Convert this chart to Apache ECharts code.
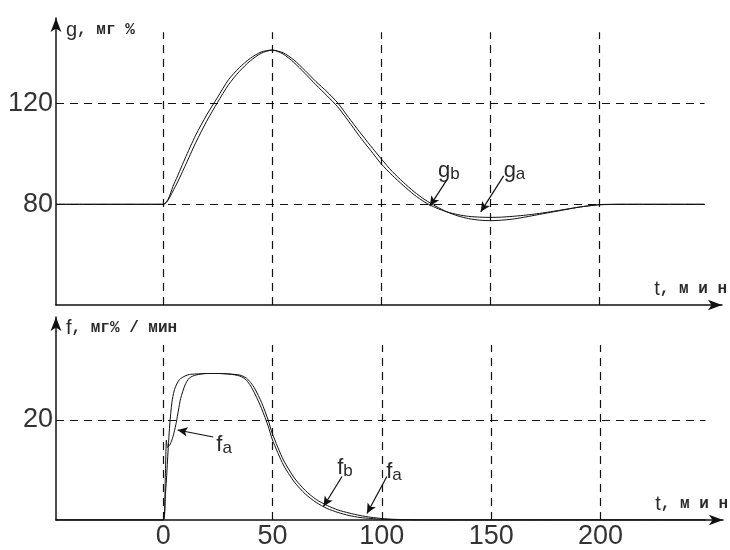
<!DOCTYPE html>
<html>
<head>
<meta charset="utf-8">
<script src="https://cdn.jsdelivr.net/npm/echarts@6/dist/echarts.min.js"></script>
<style>html,body{margin:0;padding:0;background:#fff}#c{width:730px;height:550px}</style>
</head>
<body>
<div id="c"></div>
<script>
// ---- data ----
const T_G = [-49, 0, 5, 10, 15, 20, 25, 30, 35, 40, 45, 50, 55, 60, 65, 70, 75, 80, 85, 90, 95, 100, 105, 110, 115, 120, 125, 130, 135, 140, 145, 150, 155, 160, 165, 170, 175, 180, 185, 190, 195, 200, 210, 220, 248];
const G_A = [80, 80, 86, 95, 104.5, 113, 120.5, 127.5, 132.8, 137, 140, 141.2, 140.2, 137.3, 133.2, 128.8, 124.8, 120.3, 114.5, 108.8, 103.3, 98, 93, 88.8, 85, 81.8, 79.2, 77, 75.4, 74.3, 73.7, 73.5, 73.7, 74.1, 74.8, 75.6, 76.4, 77.2, 78, 78.8, 79.4, 79.9, 80, 80, 80];
const G_B = [80, 80, 88, 98, 107.5, 115.5, 122.5, 129.5, 134.3, 138, 140.5, 141.3, 139.7, 136.3, 132, 127.5, 123.2, 118.7, 113, 107, 101.5, 96, 91.5, 87.5, 83.8, 80.8, 78.6, 77, 75.9, 75.2, 74.9, 74.8, 74.9, 75.2, 75.6, 76.1, 76.7, 77.4, 78.1, 78.8, 79.4, 79.8, 80, 80, 80];

const T_F = [-49, 0, 1, 1.5, 2, 3, 4, 5, 6, 7, 8, 10, 12, 15, 20, 25, 30, 35, 38, 40, 42, 45, 48, 50, 55, 60, 65, 70, 75, 80, 85, 90, 95, 100, 105, 110, 120, 248];
const F_A = [0, 0, 9, 16, 14.5, 15, 16, 17.5, 19.5, 22, 24.3, 27, 28.4, 29, 29.3, 29.3, 29.2, 29, 28.4, 27.5, 26.2, 23.5, 20, 17.2, 12, 8.4, 5.9, 4.1, 2.9, 2, 1.4, 0.9, 0.55, 0.3, 0.15, 0.08, 0, 0];
const F_B = [0, 0, 5, 8, 12, 19, 23.5, 25.8, 27, 27.8, 28.3, 28.8, 29.1, 29.2, 29.3, 29.3, 29.2, 28.8, 28, 26.8, 25.2, 22.3, 18.8, 16, 11, 7.6, 5.2, 3.5, 2.3, 1.5, 0.9, 0.5, 0.3, 0.15, 0.08, 0.04, 0, 0];

const X_TICKS = [0, 50, 100, 150, 200];
const G_TICKS = [80, 120];
const F_TICKS = [20];
const X_GRID = [0, 50, 100, 150, 200];

// ---- helpers ----
const pairs = (xs, ys) => xs.map((x, i) => [x, ys[i]]);
const INK = '#111';
const TXT = '#2a2a2a';
const rich = {
  s: {fontFamily: 'Liberation Sans', fontSize: 20, color: TXT},
  m: {fontFamily: 'Liberation Mono', fontWeight: 'bold', fontSize: 16, color: TXT},
  g: {fontFamily: 'Liberation Sans', fontSize: 22, color: TXT, lineHeight: 24},
  b: {fontFamily: 'Liberation Sans', fontSize: 17, color: TXT, lineHeight: 12, verticalAlign: 'bottom'}
};
const dash = {type: [8, 6], color: INK, width: 1.2};
function gridLines(hLines, xMin, xMax, yMin, yTop) {
  const out = [];
  hLines.forEach(v => out.push([{coord: [xMin, v]}, {coord: [xMax, v]}]));
  X_GRID.forEach(t => out.push([{coord: [t, yMin]}, {coord: [t, yTop]}]));
  return out;
}
function arrow(x0, y0, x1, y1) {
  return [{coord: [x0, y0], symbol: 'none', lineStyle: {type: 'solid', width: 1.2, color: INK}},
          {coord: [x1, y1], symbol: 'arrow', symbolSize: [7, 10]}];
}
function note(x, y, main, sub) {
  return {coord: [x, y], value: 0, label: {formatter: '{g|' + main + '}{b|' + sub + '}'}};
}

const axisCommon = {
  axisLine: {onZero: false, lineStyle: {color: INK, width: 1.5}, symbol: ['none', 'arrow'], symbolSize: [8, 14]},
  axisTick: {show: false},
  splitLine: {show: false}
};
const tickFont = {fontFamily: '"Liberation Sans Narrow", "Liberation Sans", sans-serif', fontSize: 27, color: '#333'};

const lineSeries = (name, data, xi) => ({
  name, type: 'line', xAxisIndex: xi, yAxisIndex: xi, data,
  smooth: 0.25, showSymbol: false, symbol: 'none',
  lineStyle: {color: INK, width: 1}, silent: true, animation: false
});

const option = {
  animation: false,
  backgroundColor: '#fff',
  grid: [
    {left: 56, right: 7, top: 18, height: 287},
    {left: 56, right: 7, top: 317, height: 203}
  ],
  xAxis: [
    Object.assign({}, axisCommon, {
      gridIndex: 0, type: 'value', min: -49, max: 256,
      axisLabel: {show: false},
      name: '{s|t}{m|, м и н}', nameLocation: 'end', nameGap: 5,
      nameTextStyle: {align: 'right', verticalAlign: 'bottom', padding: [0, 0, 6, 0], rich}
    }),
    Object.assign({}, axisCommon, {
      gridIndex: 1, type: 'value', min: -49, max: 256,
      axisLabel: Object.assign({customValues: X_TICKS, margin: 3}, tickFont),
      name: '{s|t}{m|, м и н}', nameLocation: 'end', nameGap: 5,
      nameTextStyle: {align: 'right', verticalAlign: 'bottom', padding: [0, 0, 6, 0], rich}
    })
  ],
  yAxis: [
    Object.assign({}, axisCommon, {
      gridIndex: 0, type: 'value', min: 40, max: 154,
      axisLabel: Object.assign({customValues: G_TICKS, margin: 3}, tickFont),
      name: '{s|g}{m|, мг %}', nameLocation: 'end', nameGap: -2,
      nameTextStyle: {align: 'left', verticalAlign: 'top', padding: [0, 0, 0, 10], rich}
    }),
    Object.assign({}, axisCommon, {
      gridIndex: 1, type: 'value', min: 0, max: 40.6,
      axisLabel: Object.assign({customValues: F_TICKS, margin: 3}, tickFont),
      name: '{s|f}{m|, мг% / мин}', nameLocation: 'end', nameGap: -1,
      nameTextStyle: {align: 'left', verticalAlign: 'top', padding: [0, 0, 0, 10], rich}
    })
  ],
  series: [
    Object.assign(lineSeries('g_a', pairs(T_G, G_A), 0), {
      markLine: {silent: true, symbol: ['none', 'none'], label: {show: false}, lineStyle: dash,
        data: gridLines(G_TICKS, -49, 248, 40, 148.3).concat([
          arrow(130, 89.7, 122.2, 79.3),
          arrow(156, 91.3, 145.5, 77)
        ])},
      markPoint: {silent: true, symbol: 'rect', symbolSize: 0,
        label: {show: true, position: 'right', distance: 0, rich},
        data: [note(125.9, 93.3, 'g', 'b'), note(156, 93.3, 'g', 'a')]}
    }),
    lineSeries('g_b', pairs(T_G, G_B), 0),
    Object.assign(lineSeries('f_a', pairs(T_F, F_A), 1), {
      markLine: {silent: true, symbol: ['none', 'none'], label: {show: false}, lineStyle: dash,
        data: gridLines(F_TICKS, -49, 248, 0, 35).concat([
          arrow(22.9, 16.6, 6.6, 18),
          arrow(81.8, 8.7, 73.3, 2.7),
          arrow(102.3, 8.7, 93.2, 1.3)
        ])},
      markPoint: {silent: true, symbol: 'rect', symbolSize: 0,
        label: {show: true, position: 'right', distance: 0, rich},
        data: [note(24.3, 15, 'f', 'a'), note(79.6, 10.4, 'f', 'b'), note(102, 9.6, 'f', 'a')]}
    }),
    lineSeries('f_b', pairs(T_F, F_B), 1)
  ]
};
const chart = echarts.init(document.getElementById('c'), null, {renderer: 'canvas'});
chart.setOption(option);
</script>
</body>
</html>
